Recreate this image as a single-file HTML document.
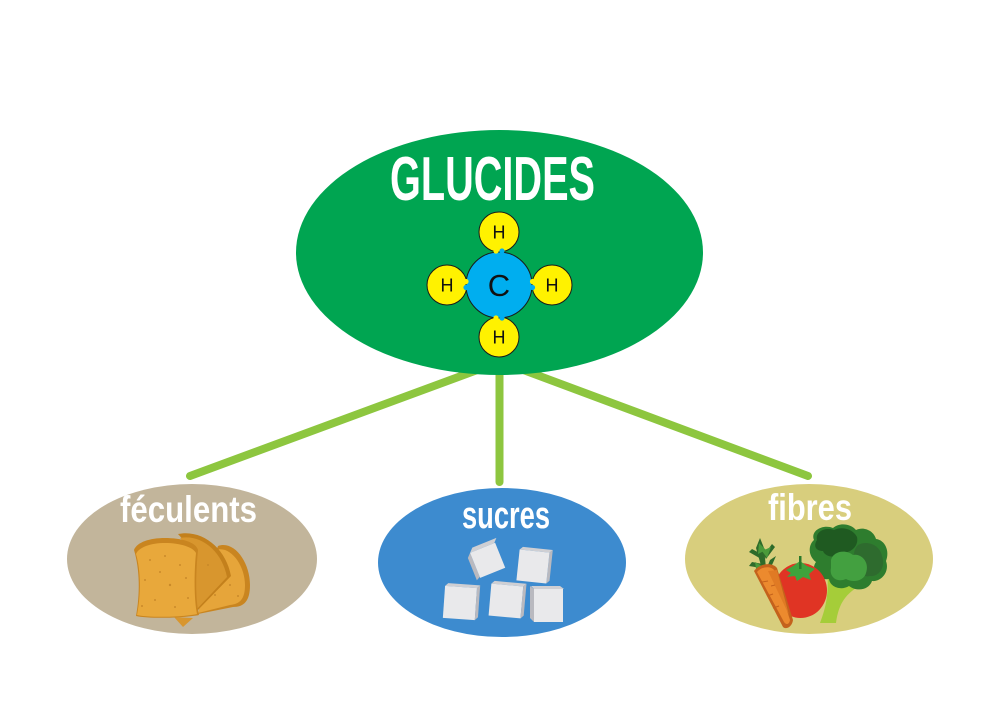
<!DOCTYPE html>
<html>
<head>
<meta charset="utf-8">
<style>
  html,body{margin:0;padding:0;background:#fff;}
  svg{display:block;}
  text{font-family:"Liberation Sans",sans-serif;}
</style>
</head>
<body>
<svg width="1000" height="708" viewBox="0 0 1000 708" xmlns="http://www.w3.org/2000/svg">
  <rect width="1000" height="708" fill="#ffffff"/>

  <!-- connectors -->
  <g stroke="#8dc63f" stroke-width="8" stroke-linecap="round" fill="none">
    <line x1="480" y1="369" x2="190" y2="476"/>
    <line x1="499.5" y1="360" x2="499.5" y2="482"/>
    <line x1="518" y1="368" x2="808" y2="476"/>
  </g>

  <!-- main ellipse -->
  <ellipse cx="499.5" cy="252.5" rx="203.5" ry="122.5" fill="#00a551"/>
  <text x="390" y="200" font-size="62" font-weight="bold" fill="#ffffff" textLength="205" lengthAdjust="spacingAndGlyphs">GLUCIDES</text>

  <!-- molecule -->
  <g stroke="#1a1a1a" stroke-width="1">
    <circle cx="499" cy="232" r="20" fill="#fff200"/>
    <circle cx="499" cy="337" r="20" fill="#fff200"/>
    <circle cx="447" cy="285" r="20" fill="#fff200"/>
    <circle cx="552" cy="285" r="20" fill="#fff200"/>
    <circle cx="499" cy="285" r="33" fill="#00aeef"/>
  </g>
  <g stroke="none">
    <circle cx="496" cy="251" r="2.6" fill="#fff200"/>
    <circle cx="502" cy="251" r="2.6" fill="#00aeef"/>
    <circle cx="496" cy="318" r="2.6" fill="#fff200"/>
    <circle cx="502" cy="318" r="2.6" fill="#00aeef"/>
    <circle cx="466" cy="281.5" r="2.6" fill="#fff200"/>
    <circle cx="466" cy="287.5" r="2.6" fill="#00aeef"/>
    <circle cx="532.5" cy="281.5" r="2.6" fill="#fff200"/>
    <circle cx="532.5" cy="287.5" r="2.6" fill="#00aeef"/>
  </g>
  <g fill="#111" text-anchor="middle">
    <text x="499" y="296" font-size="31">C</text>
    <text x="499" y="238.5" font-size="18">H</text>
    <text x="499" y="343.5" font-size="18">H</text>
    <text x="447" y="291.5" font-size="18">H</text>
    <text x="552" y="291.5" font-size="18">H</text>
  </g>

  <!-- bottom ellipses -->
  <ellipse cx="192" cy="559" rx="125" ry="75" fill="#c2b59b"/>
  <ellipse cx="502" cy="562.5" rx="124" ry="74.5" fill="#3d8bcf"/>
  <ellipse cx="809" cy="559" rx="124" ry="75" fill="#d8ce7d"/>

  <text x="120" y="522" font-size="37" font-weight="bold" fill="#ffffff" textLength="137" lengthAdjust="spacingAndGlyphs">féculents</text>
  <text x="462" y="528" font-size="38" font-weight="bold" fill="#ffffff" textLength="88" lengthAdjust="spacingAndGlyphs">sucres</text>
  <text x="768" y="520" font-size="37" font-weight="bold" fill="#ffffff" textLength="84" lengthAdjust="spacingAndGlyphs">fibres</text>

  <!-- bread -->
  <g>
    <!-- back right slice -->
    <path d="M218,546 C234,540 250,562 250,585 C250,601 244,607 233,607 L198,614 L204,585 Z" fill="#c98520"/>
    <path d="M216,550 C230,545 245,565 245,585 C245,599 240,604 230,605 L198,613 L204,585 Z" fill="#e6a53a"/>
    <!-- middle slice -->
    <path d="M178,534 C202,529 226,548 231,576 L197,611 L194,552 Z" fill="#c3801c"/>
    <path d="M180,538 C201,534 222,551 227,577 L197,609 L194,553 Z" fill="#d8962e"/>
    <!-- bottom triangle -->
    <path d="M174,617 L193,618 L183,627 Z" fill="#d8962e"/>
    <!-- front slice -->
    <path d="M134,550 C137,542 150,538 165,538 C181,538 196,542 198,550 C196,570 195,598 199,615 C185,618 150,619 136,616 C140,595 140,570 134,550 Z" fill="#c98520"/>
    <path d="M136,554 C139,547 151,543 165,543 C180,543 193,547 196,553 C194,572 194,599 197,614 C184,617 151,618 137,615 C141,595 141,571 136,554 Z" fill="#e8a83b"/>
    <g fill="#c98a2a">
      <circle cx="150" cy="560" r="1"/><circle cx="165" cy="556" r="1"/><circle cx="180" cy="565" r="1"/>
      <circle cx="145" cy="580" r="1"/><circle cx="170" cy="585" r="1.2"/><circle cx="188" cy="598" r="1"/>
      <circle cx="155" cy="600" r="1"/><circle cx="142" cy="606" r="1"/><circle cx="175" cy="607" r="1"/>
      <circle cx="160" cy="572" r="1"/><circle cx="186" cy="578" r="1"/><circle cx="215" cy="595" r="1"/>
      <circle cx="230" cy="585" r="1"/><circle cx="238" cy="596" r="1"/><circle cx="208" cy="565" r="1"/>
    </g>
  </g>

  <!-- sugar cubes -->
  <g>
    <g transform="translate(487,560) rotate(-22)">
      <polygon points="-13,-13 -9,-17 17,-17 13,-13" fill="#cfcfd3"/>
      <polygon points="-13,-13 -17,-9 -17,15 -13,13" fill="#b9b9bf"/>
      <rect x="-13" y="-13" width="27" height="27" fill="#e9e9eb"/>
    </g>
    <g transform="translate(533,566) rotate(6)">
      <polygon points="-15,-15 -12,-18 18,-18 15,-15" fill="#cfcfd3"/>
      <polygon points="15,-15 18,-18 18,13 15,16" fill="#b9b9bf"/>
      <rect x="-15" y="-15" width="30" height="31" fill="#e9e9eb"/>
    </g>
    <g transform="translate(460,602) rotate(4)">
      <polygon points="-16,-15 -13,-18 19,-18 16,-15" fill="#cfcfd3"/>
      <rect x="-16" y="-15" width="32" height="32" fill="#e9e9eb"/>
      <polygon points="16,-15 19,-18 19,14 16,17" fill="#b9b9bf"/>
    </g>
    <g transform="translate(506,600) rotate(5)">
      <polygon points="-16,-15 -13,-18 19,-18 16,-15" fill="#cfcfd3"/>
      <rect x="-16" y="-15" width="32" height="32" fill="#e9e9eb"/>
      <polygon points="16,-15 19,-18 19,14 16,17" fill="#b9b9bf"/>
    </g>
    <g transform="translate(547,604)">
      <polygon points="-13,-15 -16,-18 13,-18 17,-15" fill="#cfcfd3"/>
      <polygon points="-13,-15 -17,-18 -17,14 -13,18" fill="#b9b9bf"/>
      <rect x="-13" y="-15" width="29" height="33" fill="#e9e9eb"/>
    </g>
  </g>

  <!-- vegetables -->
  <g>
    <!-- broccoli stem -->
    <path d="M820,623 C827,605 829,590 827,570 L839,568 C839,580 841,584 853,576 L860,585 C847,594 839,601 836,623 Z" fill="#a5cd39"/>
    <!-- broccoli head -->
    <path d="M814,540 C810,530 824,524 833,528 C840,522 851,524 856,530 C864,526 874,531 876,539 C885,540 890,551 886,561 C890,572 881,582 872,581 C869,590 857,592 849,586 C841,591 830,587 829,579 C818,581 810,570 816,562 C808,556 808,545 814,540 Z" fill="#2e7d2e"/>
    <path d="M817,540 C815,531 826,527 834,530 C842,526 853,529 857,537 C859,546 851,553 842,553 C836,559 825,557 823,551 C816,551 813,546 817,540 Z" fill="#1f5a21"/>
    <path d="M858,545 C867,540 880,545 882,556 C886,567 879,577 870,576 C863,578 857,571 857,563 C853,556 853,550 858,545 Z" fill="#2e6b2e"/>
    <path d="M831,560 C833,551 846,549 853,555 C861,553 870,562 866,573 C864,581 853,583 846,579 C837,583 829,577 831,568 Z" fill="#43a040"/>
    <!-- tomato -->
    <ellipse cx="800.5" cy="590.5" rx="26.5" ry="27.5" fill="#e03424"/>
    <path d="M786,570 L793,566 L800,561 L807,566 L815,569 L809,574 L811,580 L803,577 L797,581 L795,576 L787,577 L791,573 Z" fill="#3fa33c"/>
    <rect x="799" y="556" width="2.5" height="13" fill="#2a7a2a"/>
    <!-- carrot leaves -->
    <g fill="#2e6b2a">
      <path d="M762,569 L756,548 L760,538 L764,548 L766,568 Z"/>
      <path d="M763,560 L749,552 L752,549 L765,556 Z"/>
      <path d="M764,555 L772,544 L775,547 L766,559 Z"/>
      <path d="M766,570 L770,560 L776,556 L772,565 Z"/>
      <path d="M761,568 L749,566 L752,562 L763,564 Z"/>
    </g>
    <g fill="#4a9a3a">
      <path d="M759,543 L766,550 L758,554 Z"/>
      <path d="M771,547 L767,558 L762,551 Z"/>
      <path d="M755,562 L762,566 L756,569 Z"/>
    </g>
    <!-- carrot -->
    <path d="M754,571 C760,563 772,562 777,568 L793,620 C792,627 786,630 783,627 Z" fill="#c4621c"/>
    <path d="M757,572 C762,566 771,566 774,570 L790,620 C789,625 786,625 784,622 Z" fill="#ec8a2e"/>
    <path d="M768,571 L777,570 L789,615 Z" fill="#e07a24"/>
    <g stroke="#c4621c" stroke-width="1">
      <line x1="762" y1="582" x2="768" y2="581"/>
      <line x1="767" y1="596" x2="773" y2="594"/>
      <line x1="773" y1="608" x2="779" y2="606"/>
      <line x1="771" y1="586" x2="775" y2="585"/>
    </g>
  </g>
</svg>
</body>
</html>
